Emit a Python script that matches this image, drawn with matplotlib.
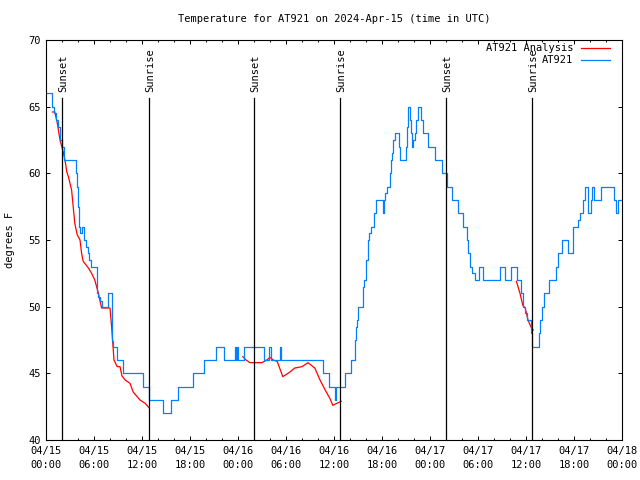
import matplotlib
matplotlib.use("Agg")
import matplotlib.pyplot as plt
from matplotlib.ticker import FixedLocator, MultipleLocator

# ---- data (hours since 2024-04-15 00:00 UTC, temperature in F) ----
obs_hours = [0.0, 0.75, 1.0, 1.25, 1.5, 1.75, 2.0, 2.25, 3.75, 3.9, 4.0, 4.1, 4.3, 4.45,
             4.8, 5.0, 5.2, 5.4, 5.6, 6.4, 6.55, 6.75, 6.95, 7.7, 8.2, 8.4, 8.9, 9.6,
             12.1, 12.9, 14.6, 15.6, 16.5, 18.4, 19.7, 21.25, 22.2, 23.6, 23.75, 23.9,
             24.0, 24.75, 27.25, 27.9, 28.1, 29.2, 29.4, 34.6, 35.4, 36.1, 36.3, 37.4,
             38.1, 38.6, 38.75, 38.9, 39.0, 39.6, 39.8, 40.0, 40.25, 40.4, 40.6, 41.0,
             41.25, 42.1, 42.25, 42.4, 42.6, 43.0, 43.1, 43.25, 43.4, 43.6, 44.1, 44.25,
             45.0, 45.1, 45.25, 45.5, 45.6, 45.75, 45.9, 46.1, 46.25, 46.5, 46.9, 47.1,
             47.75, 48.6, 49.5, 50.1, 50.7, 51.5, 52.1, 52.6, 52.8, 53.0, 53.25, 53.6,
             54.1, 54.6, 56.8, 57.4, 58.1, 58.9, 59.4, 59.6, 59.9, 60.1, 60.6, 60.75,
             61.6, 61.8, 62.0, 62.3, 62.9, 63.75, 64.0, 64.5, 65.3, 65.9, 66.5, 66.75,
             67.1, 67.4, 67.7, 67.8, 68.1, 68.25, 68.5, 69.4, 71.0, 71.25, 71.5, 72.0]
obs_temps = [66, 65, 64.5, 64, 63.5, 62.5, 62, 61, 60, 59, 57.5, 56, 55.5, 56,
             55, 54.5, 54, 53.5, 53, 51, 50.75, 50.4, 50, 51, 47.4, 47, 46, 45,
             44, 43, 42, 43, 44, 45, 46, 47, 46, 47, 46, 47,
             46, 47, 46, 47, 46, 47, 46, 45, 44, 43, 44, 45,
             46, 47.5, 48.5, 49, 50, 51.5, 52, 53.5, 55, 55.5, 56, 57,
             58, 57, 58, 58.5, 59, 60, 61, 61.5, 62.5, 63, 62, 61,
             62, 63.5, 65, 64, 63, 62, 62.5, 63, 64, 65, 64, 63,
             62, 61, 60, 59, 58, 57, 56, 55, 54, 53, 52.5, 52,
             53, 52, 53, 52, 53, 52, 51, 50, 49.5, 49, 48, 47,
             48, 49, 50, 51, 52, 53, 54, 55, 54, 56, 56.5, 57,
             58, 59, 58, 57, 58, 59, 58, 59, 58, 57, 58, 58]

ana1_hours = [0.8, 1.1, 1.4, 1.75, 2.15, 2.4, 2.6, 2.8, 3.2, 3.4, 3.6, 3.9, 4.25, 4.45,
              4.65, 5.3, 5.7, 6.1, 6.55, 6.95, 8.0, 8.2, 8.5, 8.9, 9.25, 9.5, 9.9, 10.5,
              10.9, 11.75, 12.4, 12.9]
ana1_temps = [64.6, 64.6, 63.8, 62.5, 61.6, 60.9, 60.1, 59.75, 58.75, 57.5, 56.25, 55.4,
              55.0, 54.0, 53.4, 52.9, 52.5, 52.0, 51.0, 49.9, 49.9, 48.5, 46.0, 45.5,
              45.5, 44.8, 44.5, 44.25, 43.6, 43.0, 42.75, 42.4]
ana2_hours = [24.6, 25.0, 25.5, 27.0, 27.6, 28.0, 28.4, 28.9, 29.6, 30.5, 31.1, 32.0,
              32.75, 33.6, 34.25, 34.9, 35.5, 35.85, 36.35, 36.9]
ana2_temps = [46.25, 46.0, 45.8, 45.8, 46.0, 46.2, 46.0, 45.9, 44.75, 45.1, 45.4, 45.5,
              45.8, 45.4, 44.5, 43.75, 43.1, 42.6, 42.75, 42.9]
ana3_hours = [58.8, 59.25, 59.6, 59.9, 60.25, 60.6, 60.9]
ana3_temps = [51.9, 51.0, 50.1, 49.9, 49.0, 48.5, 48.25]

sun_hours = [2.0, 12.875, 26.0, 36.75, 50.0, 60.75]
sun_labels = ["Sunset", "Sunrise", "Sunset", "Sunrise", "Sunset", "Sunrise"]

xtick_hours = [0, 6, 12, 18, 24, 30, 36, 42, 48, 54, 60, 66, 72]
xtick_labels = ["04/15\n00:00", "04/15\n06:00", "04/15\n12:00", "04/15\n18:00",
                "04/16\n00:00", "04/16\n06:00", "04/16\n12:00", "04/16\n18:00",
                "04/17\n00:00", "04/17\n06:00", "04/17\n12:00", "04/17\n18:00",
                "04/18\n00:00"]
ytick_values = [40, 45, 50, 55, 60, 65, 70]

title = "Temperature for AT921 on 2024-Apr-15 (time in UTC)"
ylabel = "degrees F"

# ---- style ----
FONT = "DejaVu Sans Mono"
FS = 7.5
RED = "#ff0000"
BLUE = "#0080ff"

plt.rcParams["font.family"] = [FONT]

fig = plt.figure(figsize=(6.4, 4.8), dpi=100)
ax = fig.add_axes([46 / 640, 40 / 480, 576 / 640, 400 / 480])

ax.plot(ana1_hours, ana1_temps, color=RED, lw=0.9, label="AT921 Analysis")
ax.plot(ana2_hours, ana2_temps, color=RED, lw=0.9)
ax.plot(ana3_hours, ana3_temps, color=RED, lw=0.9)
ax.plot(obs_hours, obs_temps, color=BLUE, lw=0.9, drawstyle="steps-post", label="AT921")

for h, lab in zip(sun_hours, sun_labels):
    ax.axvline(h, ymin=0, ymax=0.855, color="black", lw=0.9)
    ax.text(h + 0.1, 0.87, lab, transform=ax.get_xaxis_transform(), rotation=90,
            ha="center", va="bottom", fontsize=FS)

ax.set_xlim(0, 72)
ax.set_ylim(40, 70)
ax.xaxis.set_major_locator(FixedLocator(xtick_hours))
ax.set_xticklabels(xtick_labels, fontsize=FS, linespacing=1.45)
ax.xaxis.set_minor_locator(MultipleLocator(2))
ax.yaxis.set_major_locator(FixedLocator(ytick_values))
ax.set_yticklabels([str(v) for v in ytick_values], fontsize=FS)

ax.tick_params(which="both", direction="in", top=True, right=True, width=0.7, color="black")
ax.tick_params(which="major", length=3.2)
ax.tick_params(which="minor", length=1.7)
ax.tick_params(axis="x", which="major", pad=4.5)
ax.tick_params(axis="y", which="major", pad=4)
for s in ax.spines.values():
    s.set_linewidth(0.8)

fig.text(334 / 640, 1 - 19 / 480, title, ha="center", va="center", fontsize=FS)
fig.text(10 / 640, 0.5, ylabel, rotation=90, ha="center", va="center", fontsize=FS)

ax.legend(loc="upper right", bbox_to_anchor=(0.979, 0.992), borderaxespad=0, borderpad=0,
          frameon=False, markerfirst=False, fontsize=FS, handlelength=2.8,
          handletextpad=0.7, labelspacing=0.2)

fig.savefig("out.png", dpi=100)
